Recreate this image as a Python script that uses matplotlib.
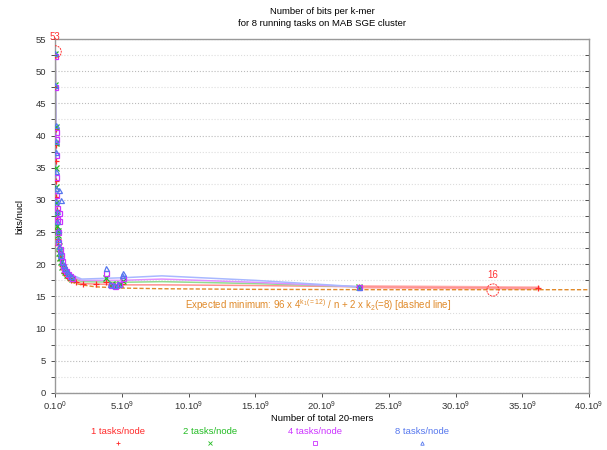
import matplotlib
matplotlib.use("Agg")
import matplotlib.pyplot as plt
import matplotlib.patches as patches
from matplotlib.lines import Line2D
from matplotlib.ticker import MultipleLocator, FuncFormatter

plt.rcParams['font.family'] = ['Liberation Sans', 'DejaVu Sans']
plt.rcParams['mathtext.fontset'] = 'custom'
plt.rcParams['mathtext.rm'] = 'Liberation Sans'
plt.rcParams['mathtext.it'] = 'Liberation Sans'

# series labels, colours, markers
labels = ["1 tasks/node", "2 tasks/node", "4 tasks/node", "8 tasks/node"]
colors = ["#ff2a2a", "#22bb22", "#cc33ff", "#5577ee"]
line_colors = ["#ff9090", "#90dd90", "#e090ff", "#a8b8ff"]
markers = ["+", "x", "s", "^"]

# measured points (x in units of 1e9 k-mers, y bits/nucl)
x1 = [0.02, 0.03, 0.04, 0.05, 0.06, 0.08, 0.1, 0.12, 0.15, 0.18, 0.22, 0.26, 0.3, 0.35, 0.4, 0.5,
      0.6, 0.7, 0.85, 1.0, 1.2, 1.6, 2.1, 3.1, 3.8, 4.2, 4.5, 4.8, 5.0, 22.8, 36.2]
y1 = [52.5, 47.5, 41.0, 38.5, 36.0, 33.0, 30.5, 28.5, 27.0, 25.5, 24.0, 23.0, 22.0, 21.3, 20.7, 19.8,
      19.2, 18.7, 18.3, 17.9, 17.6, 17.2, 16.9, 16.9, 17.2, 16.8, 16.7, 16.8, 17.0, 16.5, 16.3]
x2 = [0.02, 0.03, 0.04, 0.05, 0.07, 0.09, 0.11, 0.14, 0.17, 0.2, 0.24, 0.28, 0.33, 0.38, 0.45, 0.55,
      0.65, 0.75, 0.9, 1.1, 1.3, 3.8, 4.3, 4.6, 4.9, 5.1, 22.8]
y2 = [52.7, 47.8, 41.3, 38.8, 35.0, 32.0, 29.5, 27.8, 26.0, 25.2, 24.5, 22.8, 21.8, 21.0, 20.4, 19.6,
      19.1, 18.8, 18.4, 18.0, 17.7, 17.8, 16.9, 16.8, 16.9, 17.4, 16.5]
x4 = [0.02, 0.03, 0.04, 0.05, 0.06, 0.08, 0.1, 0.13, 0.16, 0.2, 0.25, 0.3, 0.32, 0.36, 0.42, 0.5,
      0.6, 0.7, 0.8, 0.95, 1.1, 1.3, 3.8, 4.2, 4.5, 4.8, 5.1, 22.8]
y4 = [52.3, 47.6, 40.5, 39.5, 37.0, 33.5, 30.8, 28.8, 27.0, 25.0, 23.5, 28.0, 26.8, 22.3, 21.5, 20.5,
      19.8, 19.3, 18.9, 18.5, 18.2, 17.8, 18.6, 16.8, 16.7, 16.9, 17.9, 16.5]
x8 = [0.02, 0.03, 0.04, 0.05, 0.06, 0.07, 0.09, 0.11, 0.14, 0.17, 0.21, 0.25, 0.28, 0.3, 0.35, 0.4,
      0.48, 0.55, 0.65, 0.75, 0.9, 1.0, 1.2, 3.8, 4.1, 4.4, 4.7, 5.0, 5.1, 22.8]
y8 = [52.9, 47.9, 41.7, 39.2, 37.5, 34.5, 31.8, 29.8, 28.2, 26.8, 25.3, 24.0, 31.5, 22.9, 22.1, 21.5,
      30.0, 20.4, 19.9, 19.4, 19.0, 18.6, 18.2, 19.4, 16.9, 16.8, 16.9, 18.3, 18.6, 16.5]
series_x = [x1, x2, x4, x8]
series_y = [y1, y2, y4, y8]

# smoothed trend lines
tx1 = [0.02, 0.1, 0.3, 0.6, 1.0, 2.0, 5.0, 8.0, 15.0, 22.8, 36.2]
ty1 = [52.5, 30.5, 22.0, 19.2, 17.9, 17.0, 16.8, 16.8, 16.7, 16.5, 16.3]
tx2 = [0.02, 0.1, 0.3, 0.6, 1.0, 2.0, 5.0, 8.0, 15.0, 22.8]
ty2 = [52.7, 30.2, 22.3, 19.4, 18.2, 17.3, 17.2, 17.3, 17.0, 16.5]
tx4 = [0.02, 0.1, 0.3, 0.6, 1.0, 2.0, 5.0, 8.0, 15.0, 22.8]
ty4 = [52.3, 30.8, 22.6, 19.8, 18.4, 17.5, 17.5, 17.7, 17.2, 16.5]
tx8 = [0.02, 0.1, 0.3, 0.6, 1.0, 2.0, 5.0, 8.0, 15.0, 22.8]
ty8 = [52.9, 31.0, 22.9, 20.1, 18.6, 17.7, 17.9, 18.2, 17.5, 16.5]
trend_x = [tx1, tx2, tx4, tx8]
trend_y = [ty1, ty2, ty4, ty8]

# expected minimum (dashed line)
exp_x = [0.45, 0.6, 0.75, 1.0, 1.3, 1.6, 2.0, 3.0, 5.0, 8.0, 15.0, 25.0, 40.0]
exp_y = [19.6, 18.7, 18.1, 17.6, 17.2, 17.0, 16.8, 16.5, 16.3, 16.2, 16.1, 16.05, 16.05]

# highlighted extremes
peak_x, peak_y = 0.02, 53
low_x, low_y = 32.8, 16

fig = plt.figure(figsize=(6.07, 4.5), dpi=100)
ax = fig.add_axes([55 / 607, 1 - 393 / 450, 534 / 607, 354 / 450])

for tx, ty, lc in zip(trend_x, trend_y, line_colors):
    ax.plot([v * 1e9 for v in tx], ty, color=lc, lw=1.1, zorder=2)
ax.plot([v * 1e9 for v in tx1[-2:]], ty1[-2:], color="#ffb0b0", lw=2.5, zorder=1)

ax.plot([v * 1e9 for v in exp_x], exp_y, color="#e08a2a", lw=1.0, ls=(0, (3, 1.5)), zorder=3)

for xs, ys, c, m in zip(series_x, series_y, colors, markers):
    if m in ("s", "^"):
        ax.plot([v * 1e9 for v in xs], ys, ls="none", marker=m, ms=3.6, mfc="none", mec=c, mew=0.9, zorder=4)
    else:
        ax.plot([v * 1e9 for v in xs], ys, ls="none", marker=m, ms=3.8, color=c, mew=0.9, zorder=4)

# circles around max / min
ax.add_patch(patches.Ellipse((peak_x * 1e9, peak_y), 0.9e9, 1.9, fill=False, ec="#ff3333", lw=0.7, ls=(0, (2, 1)), zorder=5))
ax.add_patch(patches.Ellipse((low_x * 1e9, low_y), 0.9e9, 1.9, fill=False, ec="#ff3333", lw=0.7, ls=(0, (2, 1)), zorder=5))
ax.text(peak_x * 1e9, peak_y + 1.6, str(peak_y), color="#ff3333", fontsize=7, ha="center", va="bottom", clip_on=False)
ax.text(low_x * 1e9, low_y + 1.6, str(low_y), color="#ff3333", fontsize=7, ha="center", va="bottom")

ax.text(19.7e9, 13.6, r"Expected minimum: 96 x 4$^{k_1(=12)}$ / n + 2 x k$_2$(=8) [dashed line]",
        color="#e08a2a", fontsize=7, ha="center", va="center")

ax.set_xlim(0, 40e9)
ax.set_ylim(0, 55)
ax.xaxis.set_major_locator(MultipleLocator(5e9))
ax.yaxis.set_major_locator(MultipleLocator(5))
ax.yaxis.set_minor_locator(MultipleLocator(2.5))
ax.xaxis.set_major_formatter(FuncFormatter(lambda v, p: r"%d.10$^{%d}$" % (round(v / 1e9), 0 if v == 0 else 9)))
ax.tick_params(axis="both", labelsize=6.8, colors="#333333", length=3, width=0.6)
ax.tick_params(axis="x", pad=1.5)
ax.tick_params(axis="y", which="minor", length=3, width=0.6, colors="#333333")
ax.tick_params(axis="y", which="both", right=True, direction="out")
ax.grid(axis="y", which="major", ls=":", color="#bbbbbb", lw=0.8)
ax.grid(axis="y", which="minor", ls=":", color="#dddddd", lw=0.8)
for s in ax.spines.values():
    s.set_color("#999999")
    s.set_linewidth(1.0)

# right side ticks point inward
for t in ax.yaxis.get_major_ticks() + ax.yaxis.get_minor_ticks():
    t.tick2line.set_marker(0)

ax.set_xlabel("Number of total 20-mers", fontsize=6.8, labelpad=1)
ax.set_ylabel("bits/nucl", fontsize=6.8, labelpad=8)

fig.text(322 / 607, 1 - 12 / 450, "Number of bits per k-mer", fontsize=6.8, ha="center", va="center")
fig.text(322 / 607, 1 - 24 / 450, "for 8 running tasks on MAB SGE cluster", fontsize=6.8, ha="center", va="center")

# legend: text with marker beneath
leg_x = [118, 210, 315, 422]
for lx, lab, c, m in zip(leg_x, labels, colors, markers):
    fig.text(lx / 607, 1 - 432 / 450, lab, color=c, fontsize=6.8, ha="center", va="center")
    fig.add_artist(Line2D([lx / 607], [1 - 443 / 450], transform=fig.transFigure, ls="none", marker=m,
                          ms=2.5, mfc="none" if m in ("s", "^") else c, mec=c, mew=0.6))

fig.savefig("out.png", dpi=100)
